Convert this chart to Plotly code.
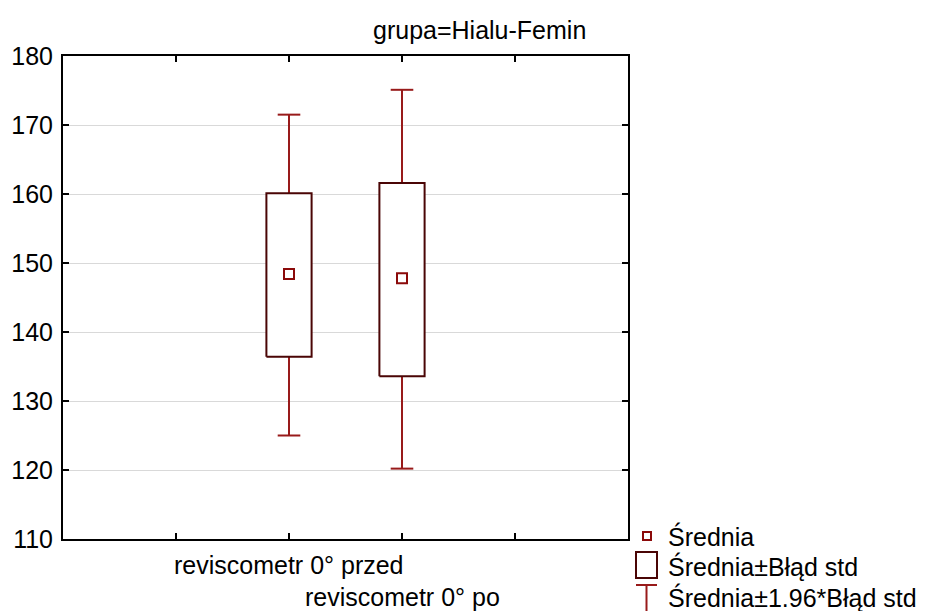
import plotly.graph_objects as go

categories = ["reviscometr 0° przed", "reviscometr 0° po"]
cat_pos = [2, 3]
means = [148.4, 147.8]
se_low = [136.4, 133.6]
se_high = [160.1, 161.6]
ci_low = [125.0, 120.2]
ci_high = [171.5, 175.1]
y_ticks = [110, 120, 130, 140, 150, 160, 170, 180]
x_ticks = [1, 2, 3, 4]

W, H = 934, 611
L, R, T, B = 63, 628, 56, 539

def px(x):
    return (x - L) / (R - L)

def py(y):
    return (B - y) / (B - T)

WHISK = "#981a1a"
BOX = "#4a0505"
MARK = "#8b0a0a"
FONT = "Liberation Sans, Arial, sans-serif"

box_hw = 0.2
cap_hw = 0.1

fig = go.Figure()

# whiskers
wx, wy = [], []
for c, lo, hi, sl, sh in zip(cat_pos, ci_low, ci_high, se_low, se_high):
    wx += [c, c, None, c - cap_hw, c + cap_hw, None, c, c, None, c - cap_hw, c + cap_hw, None]
    wy += [sh, hi, None, hi, hi, None, sl, lo, None, lo, lo, None]
fig.add_trace(go.Scatter(x=wx, y=wy, mode="lines", line=dict(color=WHISK, width=2),
                         hoverinfo="skip", showlegend=False))

# boxes
for c, sl, sh in zip(cat_pos, se_low, se_high):
    fig.add_trace(go.Scatter(x=[c - box_hw, c + box_hw, c + box_hw, c - box_hw, c - box_hw],
                             y=[sl, sl, sh, sh, sl], mode="lines", fill="toself",
                             fillcolor="white", line=dict(color=BOX, width=2),
                             hoverinfo="skip", showlegend=False))

# means
fig.add_trace(go.Scatter(x=cat_pos, y=means, mode="markers",
                         marker=dict(symbol="square", size=10, color="white",
                                     line=dict(color=MARK, width=2)),
                         showlegend=False))

annotations = []
# x labels (staggered)
label_py = [565, 597]
for c, lab, ly in zip(cat_pos, categories, label_py):
    annotations.append(dict(x=c, xref="x", y=py(ly), yref="paper", text=lab,
                            showarrow=False, xanchor="center", yanchor="middle",
                            font=dict(family=FONT, size=25, color="black")))

# title
annotations.append(dict(x=px(479), xref="paper", y=py(30), yref="paper",
                        text="grupa=Hialu-Femin", showarrow=False,
                        xanchor="center", yanchor="middle",
                        font=dict(family=FONT, size=25, color="black")))

# manual legend
leg_text_x = px(666)
leg_items = [("Średnia", 536), ("Średnia±Błąd std", 566), ("Średnia±1.96*Błąd std", 597)]
for txt, ly in leg_items:
    annotations.append(dict(x=leg_text_x, xref="paper", y=py(ly), yref="paper",
                            text=txt, showarrow=False, xanchor="left", yanchor="middle",
                            font=dict(family=FONT, size=25, color="black")))

shapes = [
    # marker square
    dict(type="rect", xref="paper", yref="paper", x0=px(643), x1=px(651),
         y0=py(540), y1=py(532), line=dict(color=MARK, width=2), fillcolor="white"),
    # box icon
    dict(type="rect", xref="paper", yref="paper", x0=px(636), x1=px(657),
         y0=py(578), y1=py(552), line=dict(color=BOX, width=2), fillcolor="white"),
    # whisker icon cap
    dict(type="line", xref="paper", yref="paper", x0=px(636), x1=px(657),
         y0=py(585), y1=py(585), line=dict(color=WHISK, width=2)),
    dict(type="line", xref="paper", yref="paper", x0=px(646.5), x1=px(646.5),
         y0=py(585), y1=py(612), line=dict(color=WHISK, width=2)),
]

fig.update_layout(
    width=W, height=H,
    margin=dict(l=L, r=W - R, t=T, b=H - B),
    paper_bgcolor="white", plot_bgcolor="white",
    showlegend=False,
    annotations=annotations,
    shapes=shapes,
    font=dict(family=FONT, color="black"),
    xaxis=dict(range=[0, 5], tickvals=x_ticks, ticktext=["" for _ in x_ticks],
               ticks="inside", ticklen=6, tickwidth=1.5, tickcolor="black",
               showline=True, linecolor="black", linewidth=2, mirror="ticks",
               showgrid=False, zeroline=False, fixedrange=True),
    yaxis=dict(range=[110, 180], tickvals=y_ticks, ticks="inside", ticklen=6,
               tickwidth=1.5, tickcolor="black",
               showline=True, linecolor="black", linewidth=2, mirror="ticks",
               showgrid=True, gridcolor="#d9d9d9", gridwidth=1, zeroline=False,
               tickfont=dict(family=FONT, size=25, color="black"), ticklabelstandoff=3,
               fixedrange=True),
)

fig.write_html("out.html")
